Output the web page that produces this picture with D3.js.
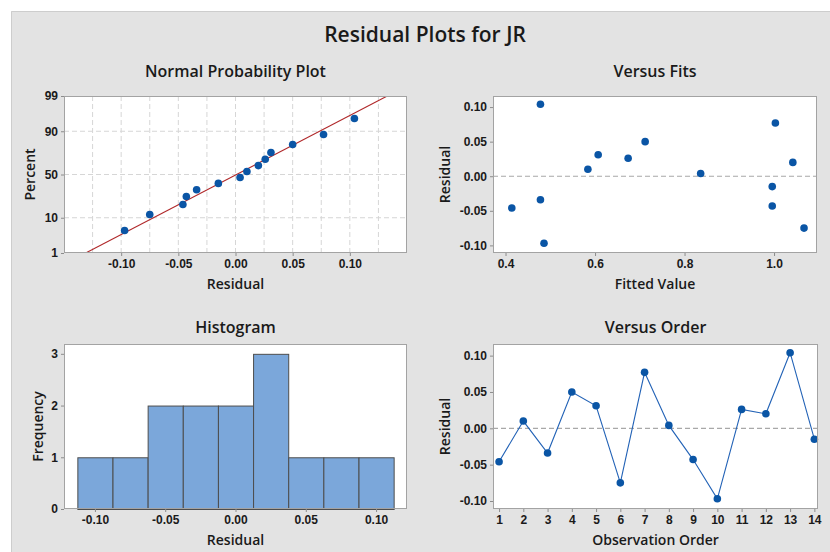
<!DOCTYPE html>
<html>
<head>
<meta charset="utf-8">
<script src="https://cdn.jsdelivr.net/npm/d3@7"></script>
<style>
  body { margin: 0; background: #fff; }
  svg { display: block; font-family: "Open Sans", "Noto Sans", sans-serif; }
  .tick text { fill: #1a1a1a; font-size: 12px; font-weight: 600; }
  .tick line { stroke: #8c8c8c; }
</style>
</head>
<body>
<div id="chart"></div>
<script>
// residuals and fits, in observation order
const observation = [1, 2, 3, 4, 5, 6, 7, 8, 9, 10, 11, 12, 13, 14];
const fittedValues = [0.414, 0.584, 0.478, 0.712, 0.607, 1.067, 1.003, 0.836, 0.996, 0.486, 0.674, 1.042, 0.478, 0.996];
const residuals = [-0.046, 0.010, -0.034, 0.050, 0.031, -0.075, 0.077, 0.004, -0.043, -0.097, 0.026, 0.020, 0.104, -0.015];

// axis ticks
const residualTicks = [-0.10, -0.05, 0.00, 0.05, 0.10];
const percentTicks = [1, 10, 50, 90, 99];
const percentGrid = [10, 50, 90];
const residualGrid = [-0.125, -0.1, -0.075, -0.05, -0.025, 0, 0.025, 0.05, 0.075, 0.1, 0.125];
const fitTicks = [0.4, 0.6, 0.8, 1.0];
const freqTicks = [0, 1, 2, 3];
const binEdges = [-0.1125, -0.0875, -0.0625, -0.0375, -0.0125, 0.0125, 0.0375, 0.0625, 0.0875, 0.1125];

const width = 830, height = 552;
const pointColor = "#0a55a5";
const frameColor = "#a3a3a3";
const textColor = "#1a1a1a";
const fmt2 = d => d.toFixed(2);

// inverse normal cdf (Acklam)
function probit(p) {
  const a = [-39.69683028665376, 220.9460984245205, -275.9285104469687, 138.3577518672690, -30.66479806614716, 2.506628277459239];
  const b = [-54.47609879822406, 161.5858368580409, -155.6989798598866, 66.80131188771972, -13.28068155288572];
  const c = [-0.007784894002430293, -0.3223964580411365, -2.400758277161838, -2.549732539343734, 4.374664141464968, 2.938163982698783];
  const d = [0.007784695709041462, 0.3224671290700398, 2.445134137142996, 3.754408661907416];
  const pl = 0.02425;
  if (p < pl || p > 1 - pl) {
    const q = Math.sqrt(-2 * Math.log(p < pl ? p : 1 - p));
    const v = (((((c[0]*q+c[1])*q+c[2])*q+c[3])*q+c[4])*q+c[5]) / ((((d[0]*q+d[1])*q+d[2])*q+d[3])*q+1);
    return p < pl ? v : -v;
  }
  const q = p - 0.5, r = q * q;
  return (((((a[0]*r+a[1])*r+a[2])*r+a[3])*r+a[4])*r+a[5])*q / (((((b[0]*r+b[1])*r+b[2])*r+b[3])*r+b[4])*r+1);
}

const svg = d3.select("#chart").append("svg")
  .attr("width", width)
  .attr("height", height);

// grey figure background
svg.append("rect").attr("x", 11).attr("y", 11)
  .attr("width", width - 11).attr("height", height - 11)
  .attr("fill", "#e3e3e3");
svg.append("path").attr("d", `M11.5,${height}V11.5H${width}`)
  .attr("fill", "none").attr("stroke", "#cdcdcd");

svg.append("text")
  .attr("x", 425).attr("y", 42)
  .attr("text-anchor", "middle")
  .attr("fill", textColor)
  .style("font-size", "21px").style("font-weight", 600)
  .text("Residual Plots for JR");

// sets up one panel: white plot area, titles, and returns a group
function panel(box, title, titleY, xLabel, yLabel, yLabelX) {
  const g = svg.append("g");
  g.append("rect")
    .attr("x", box.x0).attr("y", box.y0)
    .attr("width", box.x1 - box.x0).attr("height", box.y1 - box.y0)
    .attr("fill", "#fff");
  g.append("text")
    .attr("x", (box.x0 + box.x1) / 2).attr("y", titleY)
    .attr("text-anchor", "middle").attr("fill", textColor)
    .style("font-size", "16px").style("font-weight", 600)
    .text(title);
  g.append("text")
    .attr("x", (box.x0 + box.x1) / 2).attr("y", box.y1 + 36)
    .attr("text-anchor", "middle").attr("fill", textColor)
    .style("font-size", "14px").style("font-weight", 600)
    .text(xLabel);
  g.append("text")
    .attr("transform", `translate(${yLabelX},${(box.y0 + box.y1) / 2}) rotate(-90)`)
    .attr("text-anchor", "middle").attr("dy", "0.35em").attr("fill", textColor)
    .style("font-size", "14px").style("font-weight", 600)
    .text(yLabel);
  return g;
}

function frame(g, box) {
  g.append("rect")
    .attr("x", box.x0 + 0.5).attr("y", box.y0 + 0.5)
    .attr("width", box.x1 - box.x0 - 1).attr("height", box.y1 - box.y0 - 1)
    .attr("fill", "none").attr("stroke", frameColor);
}

function axes(g, box, x, y, xOpts, yOpts) {
  const ax = d3.axisBottom(x).tickSize(3).tickPadding(3);
  if (xOpts.values) ax.tickValues(xOpts.values);
  if (xOpts.format) ax.tickFormat(xOpts.format);
  g.append("g").attr("transform", `translate(0,${box.y1})`).call(ax)
    .call(s => s.select(".domain").remove());
  const ay = d3.axisLeft(y).tickSize(3).tickPadding(3);
  if (yOpts.values) ay.tickValues(yOpts.values);
  if (yOpts.format) ay.tickFormat(yOpts.format);
  g.append("g").attr("transform", `translate(${box.x0},0)`).call(ay)
    .call(s => s.select(".domain").remove());
}

// ---- Normal probability plot ----
{
  const box = { x0: 64, x1: 407, y0: 96, y1: 253 };
  const g = panel(box, "Normal Probability Plot", 77, "Residual", "Percent", 30);
  const x = d3.scaleLinear().domain([-0.15, 0.15]).range([box.x0, box.x1]);
  const zTicks = percentTicks.map(p => probit(p / 100));
  const y = d3.scaleLinear().domain([zTicks[0], zTicks[zTicks.length - 1]]).range([box.y1, box.y0]);

  g.append("g").selectAll("line").data(residualGrid).join("line")
    .attr("x1", d => x(d)).attr("x2", d => x(d))
    .attr("y1", box.y0).attr("y2", box.y1)
    .attr("stroke", "#d6d6d6").attr("stroke-dasharray", "5,3");
  g.append("g").selectAll("line").data(percentGrid).join("line")
    .attr("x1", box.x0).attr("x2", box.x1)
    .attr("y1", d => y(probit(d / 100))).attr("y2", d => y(probit(d / 100)))
    .attr("stroke", "#d6d6d6").attr("stroke-dasharray", "5,3");

  const mean = d3.mean(residuals), sd = d3.deviation(residuals);
  const n = residuals.length;
  const sorted = residuals.slice().sort(d3.ascending);
  g.append("clipPath").attr("id", "nppClip").append("rect")
    .attr("x", box.x0).attr("y", box.y0)
    .attr("width", box.x1 - box.x0).attr("height", box.y1 - box.y0);
  const zEnds = y.domain();
  g.append("line")
    .attr("clip-path", "url(#nppClip)")
    .attr("x1", x(mean + zEnds[0] * sd)).attr("y1", y(zEnds[0]))
    .attr("x2", x(mean + zEnds[1] * sd)).attr("y2", y(zEnds[1]))
    .attr("stroke", "#b0282a").attr("stroke-width", 1.1);

  g.append("g").selectAll("circle").data(sorted).join("circle")
    .attr("cx", d => x(d))
    .attr("cy", (d, i) => y(probit((i + 1 - 0.3) / (n + 0.4))))
    .attr("r", 3.8).attr("fill", pointColor);

  frame(g, box);
  axes(g, box, x, y,
    { values: residualTicks, format: fmt2 },
    { values: zTicks, format: (d, i) => percentTicks[i] });
}

// ---- Versus fits ----
{
  const box = { x0: 493, x1: 817, y0: 96, y1: 253 };
  const g = panel(box, "Versus Fits", 77, "Fitted Value", "Residual", 445);
  const x = d3.scaleLinear().domain([0.372, 1.096]).range([box.x0, box.x1]);
  const y = d3.scaleLinear().domain([-0.111, 0.116]).range([box.y1, box.y0]);

  g.append("line")
    .attr("x1", box.x0).attr("x2", box.x1)
    .attr("y1", y(0)).attr("y2", y(0))
    .attr("stroke", "#a8a8a8").attr("stroke-width", 1.2).attr("stroke-dasharray", "5,3");

  g.append("g").selectAll("circle").data(residuals).join("circle")
    .attr("cx", (d, i) => x(fittedValues[i]))
    .attr("cy", d => y(d))
    .attr("r", 3.8).attr("fill", pointColor);

  frame(g, box);
  axes(g, box, x, y,
    { values: fitTicks, format: d => d.toFixed(1) },
    { values: residualTicks, format: fmt2 });
}

// ---- Histogram ----
{
  const box = { x0: 64, x1: 407, y0: 344, y1: 509 };
  const g = panel(box, "Histogram", 333, "Residual", "Frequency", 38);
  const x = d3.scaleLinear().domain([-0.122, 0.122]).range([box.x0, box.x1]);
  const y = d3.scaleLinear().domain([0, 3.19]).range([box.y1, box.y0]);

  const bins = d3.bin()
    .domain([binEdges[0], binEdges[binEdges.length - 1]])
    .thresholds(binEdges.slice(1, -1))(residuals);

  g.append("g").selectAll("rect").data(bins).join("rect")
    .attr("x", d => x(d.x0) + 0.5)
    .attr("width", d => x(d.x1) - x(d.x0))
    .attr("y", d => y(d.length) + 0.5)
    .attr("height", d => y(0) - y(d.length))
    .attr("fill", "#7ba7da")
    .attr("stroke", "#4d4d4d");

  frame(g, box);
  axes(g, box, x, y,
    { values: residualTicks, format: fmt2 },
    { values: freqTicks, format: d3.format("d") });
}

// ---- Versus order ----
{
  const box = { x0: 493, x1: 818, y0: 344, y1: 509 };
  const g = panel(box, "Versus Order", 333, "Observation Order", "Residual", 445);
  const x = d3.scaleLinear().domain([0.75, 14.15]).range([box.x0, box.x1]);
  const y = d3.scaleLinear().domain([-0.111, 0.116]).range([box.y1, box.y0]);

  g.append("line")
    .attr("x1", box.x0).attr("x2", box.x1)
    .attr("y1", y(0)).attr("y2", y(0))
    .attr("stroke", "#a8a8a8").attr("stroke-width", 1.2).attr("stroke-dasharray", "5,3");

  const line = d3.line().x((d, i) => x(observation[i])).y(d => y(d));
  g.append("path").datum(residuals)
    .attr("d", line)
    .attr("fill", "none").attr("stroke", "#2262b6").attr("stroke-width", 1.1);

  g.append("g").selectAll("circle").data(residuals).join("circle")
    .attr("cx", (d, i) => x(observation[i]))
    .attr("cy", d => y(d))
    .attr("r", 3.8).attr("fill", pointColor);

  frame(g, box);
  axes(g, box, x, y,
    { values: observation, format: d3.format("d") },
    { values: residualTicks, format: fmt2 });
}
</script>
</body>
</html>
